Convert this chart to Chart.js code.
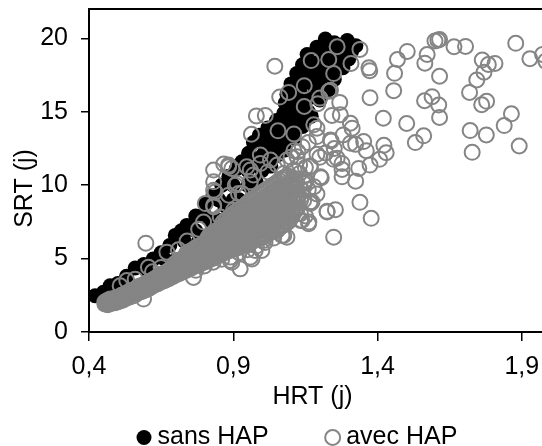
<!DOCTYPE html>
<html><head><meta charset="utf-8">
<style>html,body{margin:0;padding:0;background:#fff;overflow:hidden}canvas{display:block}</style>
<script src="https://cdn.jsdelivr.net/npm/chart.js@4"></script></head>
<body><div style="width:542px;height:446px"><canvas id="c" width="542" height="446"></canvas></div>
<script>
const xTickValues=[0.4,0.9,1.4,1.9];
const xTickLabels=['0,4','0,9','1,4','1,9'];
const yTickValues=[0,5,10,15,20];
const seriesNames=['sans HAP','avec HAP'];
const axisTitles=['HRT (j)','SRT (j)'];
const sansHap=[[.421,2.47],[.45,2.7],[.473,3.15],[.5,3.3],[.53,3.8],[.56,4.36],[.59,4.6],[.623,4.98],[.65,5.4],[.68,5.9],[.699,6.58],[.72,6.9],[.739,7.26],[.77,7.9],[.803,8.75],[.83,9.3],[.86,10],[.885,10.6],[.91,11.1],[.93,11.6],[.953,12.17],[.97,12.9],[.99,13.4],[1.02,13.9],[1.05,14.4],[1.075,14.9],[1.08,15.6],[1.086,16.2],[1.1,16.9],[1.12,17.6],[1.14,18.2],[1.156,18.9],[1.19,19.4],[1.219,19.95],[1.25,19.7],[1.295,19.85],[1.325,19.5],
[.48,2.2],[.55,3],[.62,3.8],[.7,4.9],[.78,6.2],[.85,7.6],[.92,9],[.98,10.2],[1.03,11.3],[1.08,12.4],[1.11,13.2],[1.14,14],[1.17,14.7],[1.2,15.8],[1.23,16.5],[1.25,17.2],[1.28,18],[1.3,18.6],
[.9,10],[.95,11],[1,12],[1.04,12.8],[1.08,13.8],[1.12,14.8],[1.15,15.8],[1.18,16.8],[1.2,17.6],[1.23,18.5],[1.26,19.2],[1.1,15.6],[1.13,16.5],[1.16,17.5],[1.18,18.3],[1.21,19],[1,11],[1.05,12],[.75,7],[.8,8],[.85,9],[.9,9],[.95,10],[1.02,13],[1.06,13.5],[1.1,14.2],[1.14,15.2],[1.17,16],[1.2,16.8],[1.24,17.8],[1.27,18.8],
[.97,11.6],[1.01,12.6],[1.03,12.1],[1.06,12.8],[1.09,13.2],[1.12,13.9],[1.11,16.2],[1.14,16.9],[1.17,17.2],[1.14,17.4],[1.19,18],[1.22,18],[1.16,18.4],[1.21,19.5],[1.25,19],[1.28,19.4],[1.31,19.1],[1.26,18.2],[1.22,17.2],[1.19,16.2],[1.16,15],[1.13,14.4],[1.09,14.6],[1.06,14.2],[1.02,13.4],[1.13,15.8],[1.1,15],[.87,8.6],[.82,7.6],[.77,6.9],[.73,6.2],[.66,5],[.6,4.2],[.51,2.9]];
const avecHapScattered=[[1.879,19.66],[1.928,18.61],[1.972,18.9],[1.983,18.45],[1.763,18.52],[1.784,18.22],[1.807,18.29],[1.769,17.69],[1.744,17.17],[1.719,16.32],[1.778,15.71],[1.761,15.48],[1.864,14.86],[1.839,14.06],[1.891,12.67],[1.721,13.72],[1.777,13.42],[1.728,12.24],[1.705,19.45],[1.665,19.43],[1.615,19.93],[1.609,19.88],[1.599,19.82],[1.572,18.9],[1.564,18.31],[1.615,17.42],[1.503,19.11],[1.469,18.56],[1.459,17.62],[1.456,16.44],[1.374,15.96],[1.42,14.56],[1.501,14.2],[1.563,15.75],[1.589,16.03],[1.612,15.46],[1.615,14.61],[1.56,13.36],[1.531,12.9],[1.422,12.72],[1.43,12.21],[1.407,11.76],[1.374,11.37],[1.361,12.35],[1.352,12.97],[1.324,12.78],[1.306,12.85],[1.281,13.42],[1.306,14.22],[1.312,13.88],[1.271,14.79],[1.242,14.75],[1.269,15.64],[1.193,15.55],[1.2,15.93],[1.231,16.39],[1.248,17.6],[1.37,17.99],[1.373,17.8],[1.339,19.25],[1.308,18.29],[1.26,19.43],[1.231,18.56],[1.17,18.49],[1.146,16.78],[1.146,15.36],[1.179,14.11],[1.19,13.88],[1.19,13.31],[1.239,13.01],[1.26,11.83],[1.277,11.48],[1.277,10.57],[1.324,10.27],[1.335,11.14],[1.277,11.07],[1.248,11.76],[1.167,11.3],[1.205,10.5],[1.339,8.83],[1.378,7.74],[1.254,8.33],[1.225,8.22],[1.167,8.86],[1.161,7.37],[1.248,6.46],[1.146,10.11],[1.138,9.66],[1.144,8.97],[1.133,8.06],[1.138,7.6],
[1.044,18.1],[1.061,16],[1.092,16.32],[1.237,16.46],[.98,14.72],[1.011,14.75],[.963,13.47],[1.055,13.7],[1.11,13.49],[1.237,13.08],[1.11,12.35],[1.124,12.28],[1.139,12.62],[.994,12.05],[.994,11.48],[1.029,11.71],[1.202,10.57],[1.15,10.23],[.832,11.03],[.867,11.44],[.884,11.37],[.895,11.14],[.832,10.23],[.837,9.54],[.913,10.11],[.947,11.25],[.959,10.23],
[.597,6.05],[.67,5.44],[.606,4.41],[.531,3.5],[.508,3.15],[.589,2.24],[.762,3.72],[.924,4.3],[.895,4.75],[.965,4.98],[.999,5.55],[1.069,6.58],[1.086,6.46],[1.162,7.49],[1.167,8.75],[1.225,8.18],[.797,7.49],[.832,8.52],[.803,8.75],[.884,9.32],[.907,10],[.93,9.43],
[.832,9.66],[.884,11.26],[.959,11.03],[.918,9.43],[.832,8.63],[.855,7.83],[.901,8.29],[1.167,11.26],[1.144,10.12],[1.173,8.86],[1.133,7.6],[1.075,6.58],[1.052,6.92],[.959,5.09],[.89,4.87],[.976,5.55],[1.005,6.24],[1.115,9.43],[1.133,8.98],[1.121,8.4],[1.098,8.06],[1.11,11.03],[1.075,10.8],[1.052,11.37],[1.086,11.72],[1.121,11.94],[1.15,10.35],[1.092,7.83],[1.063,7.26],[.97,10.7],[1.02,10.9],[1.15,11.2],[1.19,12.1],[1.22,12.2],[1.25,12.5],[1.16,12.9],[1.2,11.9],[1.13,11.4],[1.1,11.9],[1.18,9.9],[1.14,9.3],[1.16,9.7],[1.13,10.8],[1.15,7.9],[1.19,9.4],[.78,7],[.74,6.2],[.71,5.6],[.65,4.4],[.56,3.6],[.62,4.1],[.6,2.9]];
const avecHapBandRows=[[.455,1.9,2.05],[.465,1.85,2,2.15],[.475,1.95,2.1,2.25],[.49,2,2.15,2.3],[.505,2.1,2.25,2.4],[.52,2.2,2.4,2.55],[.535,2.35,2.5,2.7],[.55,2.45,2.65,2.85],[.565,2.6,2.8,3],[.58,2.75,2.95,3.15],[.595,2.9,3.05,3.3],[.61,3,3.25,3.45],[.625,3.2,3.4,3.6],[.64,3.3,3.55,3.8],[.655,3.45,3.7,3.95],[.67,3.6,3.85,4.1],[.685,3.75,4,4.3],[.7,3.9,4.15,4.45,4.7],[.715,4,4.3,4.6,4.9],[.73,4.15,4.45,4.75,5.05],[.745,4.3,4.6,4.9,5.2,5.45],[.76,4.45,4.75,5.05,5.35,5.6],[.775,4.55,4.85,5.15,5.5,5.8],[.79,4.7,5,5.3,5.6,5.95],[.805,4.8,5.15,5.45,5.8,6.1],[.82,4.95,5.3,5.6,5.95,6.3,6.6],[.835,5.1,5.45,5.8,6.15,6.5,6.85],[.85,5.25,5.6,5.95,6.3,6.65,7],[.865,5.35,5.75,6.1,6.5,6.85,7.2,7.5],[.88,5.5,5.9,6.3,6.7,7.05,7.4,7.7],[.895,5.6,6,6.45,6.85,7.25,7.6,7.95],[.91,5.7,6.15,6.6,7,7.4,7.8,8.2],[.925,5.85,6.3,6.75,7.2,7.6,8,8.4],[.94,6,6.45,6.9,7.35,7.75,8.2,8.6],[.955,6.1,6.6,7.05,7.5,8,8.4,8.85],[.97,6.2,6.7,7.2,7.7,8.15,8.6,9.05],[.985,6.35,6.85,7.35,7.85,8.35,8.8,9.3],[1,6.5,7,7.5,8,8.5,9,9.5],[1.015,6.6,7.15,7.65,8.15,8.65,9.2,9.7],[1.03,6.8,7.3,7.8,8.3,8.85,9.4,9.9],[1.045,6.95,7.45,8,8.5,9.05,9.55,10.1],[1.06,7.1,7.6,8.15,8.7,9.2,9.75,10.3],[1.075,7.3,7.8,8.35,8.9,9.4,9.9,10.5],[1.09,7.5,8.1,8.6,9.1,9.6,10.1,10.6],[1.105,7.9,8.5,9,9.5,10,10.4],[1.12,8.4,9.1,9.7,10.2],
[.46,1.95,2.1],[.47,1.9,2.05,2.2],[.483,2,2.2],[.498,2.05,2.2,2.35],[.513,2.15,2.3,2.5],[.528,2.3,2.45,2.6],[.543,2.4,2.6,2.75],[.558,2.5,2.7,2.9],[.573,2.7,2.9,3.1],[.588,2.8,3,3.2],[.603,2.95,3.15,3.35],[.618,3.1,3.3,3.5],[.633,3.25,3.45,3.7],[.648,3.4,3.6,3.85],[.663,3.5,3.75,4],[.678,3.65,3.9,4.2],[.693,3.8,4.1,4.35,4.55],[.708,3.95,4.2,4.5,4.8],[.723,4.1,4.35,4.65,4.95],[.738,4.2,4.5,4.8,5.1,5.35],[.753,4.35,4.65,4.95,5.25,5.5],[.768,4.5,4.8,5.1,5.4,5.7],[.783,4.6,4.95,5.2,5.5,5.85],[.798,4.75,5.05,5.35,5.7,6],[.813,4.9,5.2,5.5,5.85,6.2,6.45],[.828,5,5.35,5.7,6.05,6.4,6.7],[.843,5.15,5.5,5.85,6.2,6.55,6.9],[.858,5.3,5.65,6,6.4,6.75,7.1],[.873,5.45,5.8,6.2,6.6,6.95,7.3,7.6],[.888,5.55,5.95,6.35,6.75,7.15,7.5,7.85],[.903,5.65,6.05,6.5,6.9,7.3,7.7,8.1],[.918,5.75,6.2,6.65,7.1,7.5,7.9,8.3],[.933,5.9,6.35,6.8,7.25,7.7,8.1,8.5],[.948,6.05,6.5,7,7.4,7.85,8.3,8.75],[.963,6.15,6.65,7.15,7.6,8.05,8.5,8.95],[.978,6.3,6.8,7.25,7.75,8.25,8.7,9.2],[.993,6.4,6.9,7.45,7.95,8.4,8.9,9.4],[1.008,6.55,7.1,7.6,8.1,8.6,9.1,9.6],[1.023,6.7,7.25,7.75,8.25,8.75,9.3,9.8],[1.038,6.85,7.4,7.9,8.4,8.95,9.45,10],[1.053,7.05,7.55,8.1,8.6,9.15,9.65,10.2],[1.068,7.2,7.7,8.25,8.8,9.3,9.85,10.4],[1.083,7.4,7.95,8.5,9,9.5,10,10.55],[1.098,7.7,8.3,8.8,9.3,9.8,10.25],[1.113,8.2,8.8,9.35,9.9,10.3],
[.77,4.2],[.8,4.5],[.83,4.75],[.86,4.95],[.89,5.1],[.92,5.4],[.95,5.6],[.98,5.85],[1.01,6.1],[1.04,6.4]];
const avecHap=avecHapScattered.concat(avecHapBandRows.flatMap(r=>r.slice(1).map(y=>[r[0],y])));
const toPts=a=>a.map(p=>({x:p[0],y:p[1]}));
const FONT='"Liberation Sans", Arial, sans-serif';
function shiftTitle(scale,dx,dy){if(scale._shifted)return;const d=scale.drawTitle;scale.drawTitle=function(){const g=this.ctx;g.save();g.translate(dx,dy);d.call(this);g.restore();};scale._shifted=true;}
const layoutFix={id:'layoutFix',
 beforeLayout(c){const l=c.legend;if(!l._wrapped){const f=l.fit;l.fit=function(){f.call(this);this.height=30;};l._wrapped=true;}},
 afterLayout(c){const l=c.legend;l.left=80;l.top=362;l.right=542;l.bottom=446;shiftTitle(c.scales.x,-3,0);shiftTitle(c.scales.y,0,18);},
 afterDatasetsDraw(c){const g=c.ctx,a=c.chartArea;g.save();g.strokeStyle='#000';g.lineWidth=2;g.beginPath();g.moveTo(a.left,a.top);g.lineTo(a.right,a.top);g.stroke();g.restore();}};
new Chart(document.getElementById('c'),{type:'scatter',
 data:{datasets:[
  {label:seriesNames[0],data:toPts(sansHap),order:2,pointRadius:7.5,borderWidth:0,backgroundColor:'#000',borderColor:'#000'},
  {label:seriesNames[1],data:toPts(avecHap),order:1,pointRadius:7.5,borderWidth:2,backgroundColor:'rgba(255,255,255,0)',borderColor:'#858585'}
 ]},
 plugins:[layoutFix],
 options:{responsive:false,animation:false,
  layout:{autoPadding:false,padding:{top:9,left:0,right:0,bottom:0}},
  plugins:{tooltip:{enabled:false},
   legend:{position:'bottom',align:'start',labels:{usePointStyle:true,boxWidth:2,boxHeight:10.6,padding:63,color:'#000',font:{family:FONT,size:25},sort:(a,b)=>a.datasetIndex-b.datasetIndex}}},
  scales:{
   x:{type:'linear',min:0.4,max:1.97,
    afterBuildTicks(s){s.ticks=xTickValues.map(v=>({value:v}));},
    afterFit(s){s.height=84;s.paddingRight=0;s.paddingLeft=0;},
    grid:{drawOnChartArea:false,color:'#000',lineWidth:1.5,tickLength:9},
    border:{display:true,color:'#000',width:2},
    ticks:{color:'#000',autoSkip:false,maxRotation:0,padding:11,font:{family:FONT,size:25},callback(v){return xTickLabels[xTickValues.indexOf(v)];}},
    title:{display:true,text:axisTitles[0],color:'#000',padding:{top:0,bottom:4},font:{family:FONT,size:25}}},
   y:{type:'linear',min:0,max:22,
    afterBuildTicks(s){s.ticks=yTickValues.map(v=>({value:v}));},
    afterFit(s){s.width=89;s.paddingTop=0;s.paddingBottom=0;},
    grid:{drawOnChartArea:false,color:'#000',lineWidth:1.5,tickLength:8},
    border:{display:true,color:'#000',width:2},
    ticks:{color:'#000',padding:13,font:{family:FONT,size:25}},
    title:{display:true,text:axisTitles[1],color:'#000',padding:{top:10,bottom:0},font:{family:FONT,size:25}}}
  }}});
</script></body></html>
